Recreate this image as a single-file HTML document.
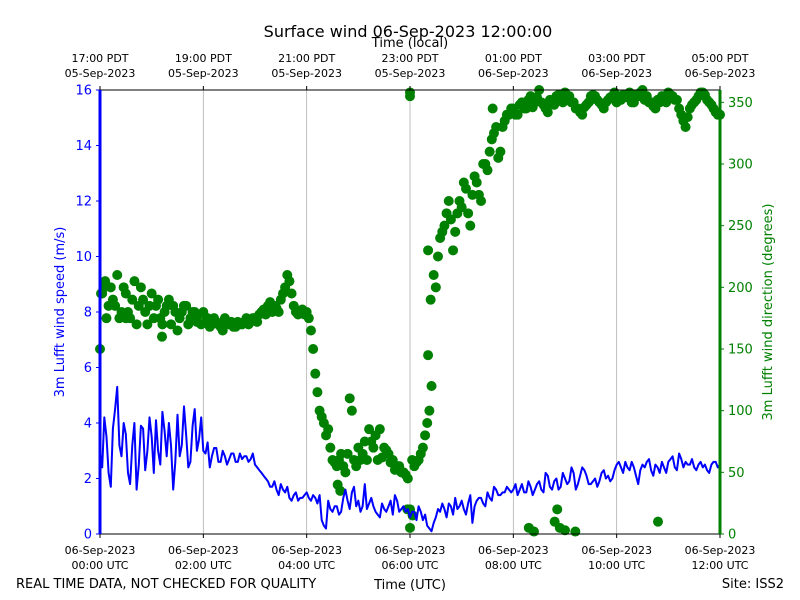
<!DOCTYPE html>
<html><head><meta charset="utf-8"><style>
body{margin:0;background:#fff;}
svg{display:block;font-family:"DejaVu Sans","Liberation Sans",sans-serif;}
</style></head><body>
<svg id="c" width="800" height="600" xmlns="http://www.w3.org/2000/svg">
<rect width="800" height="600" fill="#fff"/>
<text x="408" y="37" font-size="16" text-anchor="middle">Surface wind 06-Sep-2023 12:00:00</text>
<text x="410" y="47" font-size="13" text-anchor="middle">Time (local)</text>
<text x="410" y="589" font-size="13" text-anchor="middle">Time (UTC)</text>
<text x="16" y="588" font-size="13">REAL TIME DATA, NOT CHECKED FOR QUALITY</text>
<text x="784" y="588" font-size="13" text-anchor="end">Site: ISS2</text>
<text transform="translate(64,312) rotate(-90)" font-size="13" fill="#0000ff" text-anchor="middle">3m Lufft wind speed (m/s)</text>
<text transform="translate(772,312) rotate(-90)" font-size="13" fill="#008000" text-anchor="middle">3m Lufft wind direction (degrees)</text>
<g id="grid"></g><g id="dots"></g><g id="line"></g><g id="axes"></g>
</svg>
<script>
const speed=[3.0,4.2,2.2,3.8,5.3,2.8,3.6,1.8,4.0,2.5,3.8,3.0,
3.5,4.1,2.5,3.7,4.0,1.6,4.3,3.2,3.6,2.6,4.5,3.4,
3.0,3.3,2.8,3.1,2.6,2.8,2.7,2.9,2.6,2.7,2.8,2.7,
2.5,2.3,2.1,1.9,1.7,1.6,1.8,1.5,1.3,1.4,1.2,1.3,
1.5,1.2,1.3,1.4,0.3,1.2,0.8,1.0,0.8,1.6,0.9,1.7,
1.2,1.0,0.9,1.3,0.8,0.6,0.9,1.0,0.7,1.2,0.9,0.8,
0.6,0.8,1.0,0.5,0.3,0.1,0.6,0.8,0.9,1.1,0.7,0.9,
1.2,0.7,1.4,1.0,1.3,1.1,1.5,1.2,1.6,1.4,1.5,1.6,
1.6,1.4,1.8,1.5,1.7,1.6,1.9,1.5,2.1,1.6,2.0,1.7,
2.0,1.9,2.2,1.8,2.4,2.1,1.8,2.0,1.9,2.3,2.1,2.0,
2.5,2.4,2.6,2.3,2.4,1.8,2.5,2.6,2.3,2.5,2.2,2.4,
2.6,2.8,2.3,2.7,2.6,2.5,2.4,2.5,2.4,2.3,2.5,2.6,2.5];
const speedMid=[2.4,3.5,1.7,4.5,3.2,4.0,2.2,3.2,1.6,3.9,2.3,4.2,
2.2,3.0,4.4,2.8,3.2,2.6,2.8,4.6,2.4,3.9,3.0,4.2,
2.9,2.4,3.1,2.6,3.0,2.5,2.9,2.6,2.9,2.8,2.6,2.9,
2.4,2.2,2.0,1.7,1.9,1.4,1.6,1.7,1.2,1.5,1.3,1.4,
1.3,1.4,1.1,0.5,0.2,0.9,1.0,0.7,1.3,1.2,1.5,1.0,
0.8,1.8,1.1,1.0,0.7,1.1,0.8,1.2,1.4,0.8,1.0,0.9,
0.8,0.5,0.8,0.7,0.2,0.4,0.9,1.1,0.6,1.0,1.3,1.0,
0.9,1.1,0.4,1.2,1.3,1.0,1.3,1.7,1.4,1.5,1.7,1.5,
1.8,1.6,1.5,1.9,1.4,1.8,1.6,2.2,1.7,1.9,1.6,2.2,
1.8,2.4,1.6,2.1,2.3,1.8,1.9,1.7,2.2,2.0,1.9,2.3,
2.6,2.2,2.4,2.6,2.1,2.3,2.4,2.7,2.1,2.4,2.6,2.2,
2.7,2.4,2.9,2.4,2.5,2.7,2.3,2.6,2.5,2.2,2.6,2.4];
const direction=[150,200,185,190,210,180,195,175,205,185,190,170,
195,185,175,180,190,185,165,180,185,175,180,178,
180,175,170,172,168,175,170,168,172,170,175,172,
175,178,182,185,180,183,190,200,205,185,178,182,
180,165,130,100,90,85,60,55,65,50,110,60,
70,65,60,75,80,85,70,65,60,55,50,48,
20,55,60,70,90,120,200,240,250,270,230,260,
265,280,250,290,275,300,295,320,330,310,335,340,
345,340,350,345,355,350,360,348,342,350,355,352,
358,355,350,345,340,348,352,355,350,345,352,355,
350,352,355,358,350,355,360,355,350,345,350,352,
358,355,352,340,330,345,350,355,358,352,348,342,340];
const directionMid=[195,175,200,185,175,200,180,190,170,200,180,185,
175,190,170,185,170,180,175,185,170,180,172,170,
172,168,175,170,165,170,172,168,170,172,170,175,
172,180,178,188,185,180,195,210,195,180,180,178,
175,150,115,95,80,70,58,60,55,65,100,55,
60,75,85,70,60,62,68,58,52,55,50,45,
60,58,65,80,100,210,225,245,260,255,245,270,
285,260,275,285,270,300,310,325,305,330,340,345,
340,348,345,352,346,354,350,345,352,348,356,350,
352,350,345,342,346,350,356,352,348,350,354,358,
352,356,354,350,356,358,352,350,347,352,355,350,
356,352,345,335,338,348,352,358,356,350,345,340];
const extraHours=[6.0,6.0,5.95,6.0,6.05,8.3,8.4,8.8,8.85,8.9,9.0,9.2,10.8,4.6,4.65,6.35,6.4,6.35,0.02,0.1,0.5,1.2,7.6,9.5];
const extraDir=[355,358,20,5,15,5,2,10,20,5,3,2,10,40,35,145,190,230,195,205,175,160,345,355];
const utcLabels=["00:00 UTC","02:00 UTC","04:00 UTC","06:00 UTC","08:00 UTC","10:00 UTC","12:00 UTC"];
const utcDates=["06-Sep-2023","06-Sep-2023","06-Sep-2023","06-Sep-2023","06-Sep-2023","06-Sep-2023","06-Sep-2023"];
const localLabels=["17:00 PDT","19:00 PDT","21:00 PDT","23:00 PDT","01:00 PDT","03:00 PDT","05:00 PDT"];
const localDates=["05-Sep-2023","05-Sep-2023","05-Sep-2023","05-Sep-2023","06-Sep-2023","06-Sep-2023","06-Sep-2023"];
const speedTicks=[0,2,4,6,8,10,12,14,16];
const dirTicks=[0,50,100,150,200,250,300,350];
const stepMin=5;

const X0=100,X1=720,Y0=534,Y1=90,NS="http://www.w3.org/2000/svg";
const xh=h=>X0+(X1-X0)*h/12;
const ys=v=>Y0-(Y0-Y1)*v/16;
const yd=v=>Y0-(Y0-Y1)*v/360;
function mk(t,a,p){const e=document.createElementNS(NS,t);for(const k in a)e.setAttribute(k,a[k]);p.appendChild(e);return e;}
const grid=document.getElementById('grid'),dots=document.getElementById('dots'),line=document.getElementById('line'),axes=document.getElementById('axes');
for(let i=1;i<6;i++){const g=mk('line',{x1:xh(i*2),x2:xh(i*2),y1:Y1,y2:Y0,stroke:'#b0b0b0','stroke-width':0.8},grid);

}
function dot(h,d){const c=mk('circle',{cx:xh(h),cy:yd(d),r:5,fill:'#008000'},dots);

}
direction.forEach((d,i)=>dot(i*stepMin/60,d));
directionMid.forEach((d,i)=>dot((i+0.5)*stepMin/60,d));
extraDir.forEach((d,i)=>dot(extraHours[i],d));
const sp=[];
speed.forEach((v,i)=>{sp.push([i*stepMin/60,v]);if(i<speedMid.length)sp.push([(i+0.5)*stepMin/60,speedMid[i]]);});
const pts=sp.map(p=>xh(p[0]).toFixed(1)+','+ys(p[1]).toFixed(1)).join(' ');
const pl=mk('polyline',{points:pts,fill:'none',stroke:'#0000ff','stroke-width':2,'stroke-linejoin':'round'},line);


mk('line',{x1:X0,x2:X1,y1:Y1,y2:Y1,stroke:'#000','stroke-width':1},axes);
mk('line',{x1:X0,x2:X1,y1:Y0,y2:Y0,stroke:'#000','stroke-width':1},axes);
const ls=mk('line',{x1:X0,x2:X0,y1:Y1,y2:Y0,stroke:'#0000ff','stroke-width':3},axes);


const rs=mk('line',{x1:X1,x2:X1,y1:Y1,y2:Y0,stroke:'#008000','stroke-width':3},axes);


speedTicks.forEach(v=>{mk('line',{x1:X0-4,x2:X0,y1:ys(v),y2:ys(v),stroke:'#0000ff'},axes);
const t=mk('text',{x:X0-8,y:ys(v)+4.5,'font-size':13,fill:'#0000ff','text-anchor':'end'},axes);t.textContent=v;

});
dirTicks.forEach(v=>{mk('line',{x1:X1,x2:X1+4,y1:yd(v),y2:yd(v),stroke:'#008000'},axes);
const t=mk('text',{x:X1+8,y:yd(v)+4.5,'font-size':13,fill:'#008000'},axes);t.textContent=v;

});
utcLabels.forEach((l,i)=>{const x=xh(i*2);
mk('line',{x1:x,x2:x,y1:Y0,y2:Y0+4,stroke:'#000'},axes);
mk('line',{x1:x,x2:x,y1:Y1-4,y2:Y1,stroke:'#000'},axes);
const a=mk('text',{x:x,y:554,'font-size':11,'text-anchor':'middle'},axes);a.textContent=utcDates[i];


const b=mk('text',{x:x,y:569,'font-size':11,'text-anchor':'middle'},axes);b.textContent=l;


const c=mk('text',{x:x,y:62,'font-size':11,'text-anchor':'middle'},axes);c.textContent=localLabels[i];


const d=mk('text',{x:x,y:77,'font-size':11,'text-anchor':'middle'},axes);d.textContent=localDates[i];

});
</script>
</body></html>
